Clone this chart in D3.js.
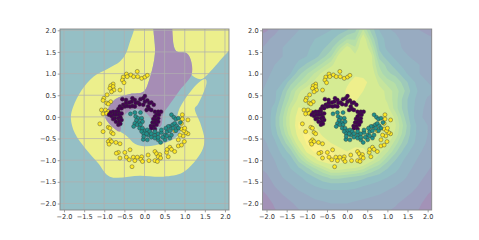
<!DOCTYPE html>
<html>
<head>
<meta charset="utf-8">
<script src="https://cdn.jsdelivr.net/npm/d3@7"></script>
<style>
body { margin: 0; background: #fff; }
text { font-family: "DejaVu Sans", sans-serif; }
</style>
</head>
<body>
<svg id="vis" width="479" height="240"></svg>
<script>
// values
const tickValues = [-2, -1.5, -1, -0.5, 0, 0.5, 1, 1.5, 2];

const purplePoints = [[-0.55,0.41],[-0.46,0.39],[-0.30,0.43],[-0.24,0.39],[-0.16,0.33],[-0.10,0.41],[-0.03,0.43],[0.01,0.35],[0.07,0.38],[0.12,0.32],[0.17,0.33],[0.23,0.28],[0.09,0.24],[-0.03,0.28],[-0.12,0.29],[-0.22,0.32],[-0.32,0.35],[-0.38,0.33],[-0.46,0.32],[-0.53,0.28],[-0.61,0.24],[-0.65,0.18],[-0.57,0.20],[-0.49,0.24],[-0.43,0.25],[-0.36,0.24],[-0.30,0.25],[-0.24,0.24],[-0.65,0.12],[-0.71,0.12],[-0.78,0.12],[-0.84,0.10],[-0.88,0.05],[-0.82,0.02],[-0.76,0.05],[-0.70,0.05],[-0.63,0.05],[-0.57,0.08],[-0.74,-0.03],[-0.65,-0.03],[-0.60,-0.01],[-0.78,-0.05],[-0.71,-0.11],[-0.63,-0.11],[-0.57,-0.07],[-0.65,-0.18],[-0.60,-0.16],[0.05,0.16],[0.12,0.18],[0.17,0.16],[0.26,0.12],[0.34,0.12],[0.41,0.12],[0.30,0.05],[0.36,0.05],[0.26,0.01],[0.34,-0.03],[0.22,-0.05],[0.28,-0.07],[0.20,-0.13],[0.26,-0.13],[0.34,-0.11],[0.16,-0.21],[0.23,-0.21],[0.30,-0.18],[0.17,-0.26],[0.26,-0.28],[0.01,0.48]];

const tealPoints = [[-0.35,0.07],[-0.24,0.10],[-0.10,0.10],[-0.22,0.01],[-0.16,-0.03],[-0.07,-0.03],[-0.20,-0.08],[-0.13,-0.13],[-0.05,-0.11],[-0.24,-0.15],[-0.18,-0.18],[-0.10,-0.18],[-0.27,-0.22],[-0.12,-0.26],[-0.05,-0.26],[0.01,-0.32],[0.07,-0.30],[0.13,-0.34],[-0.07,-0.34],[-0.02,-0.39],[0.09,-0.42],[0.17,-0.39],[0.26,-0.42],[0.34,-0.39],[0.42,-0.36],[-0.03,-0.52],[0.07,-0.53],[0.17,-0.47],[0.26,-0.49],[0.34,-0.53],[0.40,-0.59],[0.51,-0.42],[0.56,-0.34],[0.63,-0.22],[0.70,-0.18],[0.75,-0.15],[0.67,0.05],[0.73,-0.01],[0.78,-0.05],[0.84,-0.03],[0.89,-0.13],[0.80,-0.21],[0.71,-0.26],[0.63,-0.32],[0.56,-0.44],[0.63,-0.49],[0.51,-0.53],[0.45,-0.47],[0.34,-0.47],[0.84,-0.26],[0.78,-0.32],[0.67,-0.42],[0.59,-0.22],[0.53,-0.26],[0.42,-0.30],[0.26,-0.34],[0.05,-0.39],[-0.02,-0.45]];

const yellowPoints = [[-0.45,0.99],[-0.53,0.92],[-0.55,0.85],[-0.51,0.79],[-0.34,0.97],[-0.27,0.93],[-0.18,1.05],[-0.17,0.93],[-0.07,0.89],[0.01,0.92],[0.07,0.96],[-0.43,0.93],[-0.78,0.76],[-0.84,0.72],[-0.78,0.70],[-0.86,0.66],[-0.76,0.62],[-0.82,0.58],[-0.61,0.62],[-0.93,0.51],[-1.01,0.43],[-1.03,0.38],[-0.84,0.35],[-0.94,0.32],[-0.90,0.30],[-1.07,0.16],[-0.97,0.16],[-1.03,0.07],[-0.90,0.12],[-0.94,0.08],[-1.11,-0.16],[-1.03,-0.34],[-0.90,-0.24],[-0.86,-0.26],[-0.82,-0.36],[-0.78,-0.39],[-0.86,-0.53],[-0.90,-0.57],[-0.82,-0.57],[-0.88,-0.63],[-0.71,-0.59],[-0.61,-0.62],[-0.65,-0.82],[-0.70,-0.84],[-0.61,-0.95],[-0.49,-0.82],[-0.45,-0.93],[-0.36,-0.76],[-0.38,-0.99],[-0.28,-0.93],[-0.24,-1.01],[-0.18,-0.93],[-0.07,-0.92],[-0.09,-0.98],[-0.05,-1.03],[-0.31,-1.15],[0.09,-0.88],[0.11,-1.01],[0.26,-0.80],[0.30,-0.85],[0.38,-0.87],[0.34,-0.92],[0.40,-0.95],[0.26,-1.01],[0.32,-1.03],[0.55,-0.82],[0.56,-0.75],[0.63,-0.70],[0.67,-0.75],[0.59,-0.92],[0.75,-0.80],[0.84,-0.67],[0.92,-0.65],[0.99,-0.57],[0.84,-0.53],[0.96,-0.44],[0.88,-0.42],[1.08,-0.39],[1.03,-0.36],[0.92,-0.28],[0.98,-0.32],[0.75,-0.32],[0.94,0.05],[0.94,-0.05],[1.08,-0.07],[0.92,-0.15],[1.00,-0.26]];

// decision regions of the left panel
const yellowRegion = [[-0.2,2.4],[-0.25,2.05],[-0.36,1.74],[-0.46,1.47],[-0.61,1.28],[-0.90,1.12],[-1.27,0.93],[-1.56,0.62],[-1.77,0.24],[-1.83,-0.03],[-1.73,-0.38],[-1.48,-0.72],[-1.15,-1.07],[-0.86,-1.38],[-0.11,-1.36],[0.47,-1.38],[0.96,-1.28],[1.42,-0.80],[1.49,-0.53],[1.40,-0.18],[1.25,0.20],[1.32,0.28],[1.54,0.78],[1.52,0.87],[1.38,0.82],[1.05,0.47],[0.84,0.12],[0.82,-0.07],[0.92,-0.26],[0.76,-0.49],[0.47,-0.61],[0.05,-0.68],[-0.24,-0.62],[-0.43,-0.45],[-0.61,-0.34],[-0.82,-0.21],[-0.98,0.01],[-0.90,0.20],[-0.73,0.41],[-0.36,0.53],[-0.03,0.58],[0.14,0.93],[0.26,1.47],[0.22,2.05],[0.22,2.4]];
const cornerRegion = [[0.66,2.4],[0.69,2.05],[2.6,2.4],[2.6,2.0],[2.08,1.51],[1.46,0.89],[1.38,0.87],[1.17,0.98],[1.16,1.28],[1.05,1.47],[0.78,1.53]];
const purpleRegion = [[0.22,2.4],[0.66,2.4],[0.69,2.05],[0.78,1.53],[1.05,1.47],[1.16,1.28],[1.17,0.98],[0.88,0.62],[0.59,0.24],[0.47,0.08],[0.40,-0.22],[0.26,-0.21],[0.18,-0.07],[0.05,0.08],[-0.19,0.18],[-0.40,0.12],[-0.57,-0.07],[-0.61,-0.34],[-0.82,-0.21],[-0.98,0.01],[-0.90,0.20],[-0.73,0.41],[-0.36,0.53],[-0.03,0.58],[0.14,0.93],[0.26,1.47],[0.22,2.05]];

// right panel field, 0 = purple corner, 9 = yellow
const fieldX = [-2.2,-2,-1.8,-1.6,-1.4,-1.2,-1,-0.8,-0.6,-0.4,-0.2,0,0.2,0.4,0.6,0.8,1,1.2,1.4,1.6,1.8,2,2.2];
const fieldY = [2.2,2,1.8,1.6,1.4,1.2,1,0.8,0.6,0.4,0.2,0,-0.2,-0.4,-0.6,-0.8,-1,-1.2,-1.4,-1.6,-1.8,-2,-2.2];
const fieldRows = [
  [.5,.5,1,1.6,2,2.2,2.4,2.6,2.8,3,3.3,3.6,4,5.5,4,3,2.5,2.3,2,1.8,1.6,1.5,1.5],
  [.5,.7,1.3,1.9,2.2,2.4,2.5,2.7,3,3.2,3.6,4,4.6,6.5,4.5,3.2,2.5,2.3,2,1.8,1.6,1.5,1.5],
  [1,1.4,1.9,2.2,2.4,2.6,3,3.2,3.4,3.8,4.5,5.5,5.5,8,5.5,3.5,3,2.6,2.2,2,1.8,1.7,1.6],
  [1.4,1.8,2.2,2.4,2.5,2.8,3,3.5,3.8,4.5,6,7.6,6.5,8.2,6.5,3.8,3,2.7,2.3,2.2,2,2,2],
  [1.8,2,2.3,2.4,2.6,2.9,3.2,3.6,4.5,5.5,7.6,8,7.5,8.2,7.5,4.5,3.5,3,2.6,2.3,2.1,2,2],
  [2,2.2,2.4,2.6,2.8,3.5,4.2,5,6,7,7.8,8,7.8,8,7.5,5.5,4.5,3.5,3,2.7,2.4,2.2,2.2],
  [2.1,2.3,2.5,2.9,3.2,4.5,5.5,6.5,7.5,8,8,8,8.2,8,8,6,5,4.5,3.5,2.8,2.4,2.2,2.2],
  [2.2,2.4,2.7,3.2,4.5,5.5,6.5,7.5,8,8,8,8.2,8.5,8.6,8,7,6,5.5,4.5,3.5,2.8,2.4,2.3],
  [2.3,2.5,3,4,5.5,7,7.8,8,8,8,8,8.4,8.8,8.3,8,7.5,7,6,5,3.8,3,2.6,2.4],
  [2.4,2.6,3,4.5,6,7.5,8,8,8,8,8,8.3,8.4,8,8,7.8,7,6,4.5,3.5,2.8,2.3,2.2],
  [2.4,2.7,3.5,5,7,8.4,8.2,8,8,8,8,8,8,8,8,7.8,7.5,6,4.5,3.5,2.6,2.2,2.2],
  [2.4,2.6,3.8,5.5,7.5,8.8,8.5,8.2,8,8,8,8,8,8,8,8,8,7,5,3.5,2.5,2.2,2.2],
  [2.4,2.6,3.8,5.5,7.5,9,8.8,8.3,8,8,8,8,8,8,8,8.2,8.3,7.3,5.5,3.8,2.8,2.4,2.2],
  [2.3,2.6,3.5,5,7,8.8,9,8.6,8.2,8,8,8,8,8,8,8.2,8,7,5.2,3.7,2.8,2.4,2.2],
  [2.2,2.4,3,4.2,5.8,8,9,9,8.6,8.3,8,8,8,8,8,8,7.5,6,4.5,3.5,2.7,2.3,2.1],
  [2,2.2,2.7,3.5,4.5,6.5,8.5,9,9,9,8.6,8.3,8.6,8.5,8,7.5,6.5,5,3.8,3,2.5,2.1,1.9],
  [1.8,2,2.4,3,3.5,5,6.5,8,8.8,9,8.8,8.6,8.8,8.5,7.5,6.5,5,4,3.2,2.7,2.2,1.9,1.6],
  [1.5,1.8,2.2,2.7,3.2,3.8,4.5,5.5,6.5,7.5,7.5,7.2,7,6.5,5.5,4.8,4,3.5,2.8,2.4,2,1.7,1.3],
  [1.1,1.4,2,2.4,2.7,3,3.5,4,4.5,5,5,4.8,4.5,4.2,3.8,3.5,3.2,2.8,2.5,2.2,1.8,1.4,1],
  [.8,1.1,1.6,2,2.3,2.6,2.9,3.2,3.4,3.5,3.5,3.5,3.4,3.2,3,2.8,2.6,2.4,2.2,1.9,1.5,1.1,.8],
  [.6,.8,1.2,1.6,1.9,2.2,2.4,2.6,2.7,2.8,2.8,2.8,2.7,2.6,2.5,2.4,2.2,2,1.8,1.5,1.2,.8,.6],
  [.4,.5,.9,1.2,1.5,1.8,2,2.2,2.3,2.4,2.4,2.4,2.3,2.2,2.1,2,1.9,1.7,1.4,1.2,.9,.5,.4],
  [.3,.4,.7,1,1.3,1.5,1.7,1.9,2,2.1,2.1,2.1,2,1.9,1.8,1.7,1.6,1.4,1.2,1,.7,.4,.3]
];
const fieldLevels = [0, 0.8, 1.6, 2.4, 3.2, 4, 4.8, 5.6, 6.4, 7.2, 8.3, 8.9];

const svg = d3.select("#vis");
const margin = {top: 29, bottom: 210};

const y = d3.scaleLinear().domain([2.03, -2.15]).range([margin.top, margin.bottom]);
const xLeft = d3.scaleLinear().domain([-2.1, 2.1]).range([60, 229]);
const xRight = d3.scaleLinear().domain([-2.1, 2.1]).range([262.5, 431.7]);

const fieldColor = d3.scaleLinear()
  .domain([0, 1.5, 3.5, 5.5, 7.8, 9])
  .range(["#a68bb4", "#9aa5c0", "#90bcc4", "#aedcae", "#d9ec90", "#f5f08a"]);

function addFrame(name, x) {
  const g = svg.append("g").attr("class", name);
  g.append("clipPath").attr("id", "clip-" + name)
    .append("rect")
    .attr("x", x.range()[0]).attr("y", margin.top)
    .attr("width", x.range()[1] - x.range()[0]).attr("height", margin.bottom - margin.top);
  return g;
}

function drawAxes(g, x) {
  const fmt = d => d3.format(".1f")(d).replace("-", "\u2212");
  const xaxis = g.append("g")
    .attr("transform", `translate(0,${margin.bottom})`)
    .call(d3.axisBottom(x).tickValues(tickValues).tickFormat(fmt).tickSize(2.3).tickPadding(1.6));
  const yaxis = g.append("g")
    .attr("transform", `translate(${x.range()[0]},0)`)
    .call(d3.axisLeft(y).tickValues(tickValues).tickFormat(fmt).tickSize(2.3).tickPadding(1.6));
  [xaxis, yaxis].forEach(a => {
    a.selectAll("text").attr("font-size", 6.6).attr("font-family", "DejaVu Sans").attr("fill", "#333");
    a.selectAll("line").attr("stroke", "#555").attr("stroke-width", 0.55);
    a.select(".domain").remove();
  });
  g.append("rect")
    .attr("x", x.range()[0]).attr("y", margin.top)
    .attr("width", x.range()[1] - x.range()[0]).attr("height", margin.bottom - margin.top)
    .attr("fill", "none").attr("stroke", "#888").attr("stroke-width", 0.9);
}

function drawPoints(g, x) {
  const sets = [[yellowPoints, "#fde725"], [purplePoints, "#440154"], [tealPoints, "#21918c"]];
  sets.forEach(([pts, color]) => {
    g.append("g").selectAll("circle").data(pts).join("circle")
      .attr("cx", d => x(d[0]))
      .attr("cy", d => y(d[1]))
      .attr("r", 2)
      .attr("fill", color)
      .attr("stroke", "#333")
      .attr("stroke-width", 0.4);
  });
}

// left panel
const left = addFrame("left", xLeft);
const leftBody = left.append("g").attr("clip-path", "url(#clip-left)");
leftBody.append("rect")
  .attr("x", xLeft.range()[0]).attr("y", margin.top)
  .attr("width", 169).attr("height", margin.bottom - margin.top)
  .attr("fill", "#95bfc5");

const region = d3.line().x(d => xLeft(d[0])).y(d => y(d[1])).curve(d3.curveCatmullRomClosed.alpha(0.5));
leftBody.append("path").attr("d", region(yellowRegion)).attr("fill", "#ecef8c");
leftBody.append("path").attr("d", region(cornerRegion)).attr("fill", "#ecef8c");
leftBody.append("path").attr("d", region(purpleRegion)).attr("fill", "#a68db5");

tickValues.forEach(t => {
  leftBody.append("line").attr("x1", xLeft(t)).attr("x2", xLeft(t))
    .attr("y1", margin.top).attr("y2", margin.bottom)
    .attr("stroke", "#b0b0b0").attr("stroke-width", 0.9).attr("opacity", 0.8);
  leftBody.append("line").attr("x1", xLeft.range()[0]).attr("x2", xLeft.range()[1])
    .attr("y1", y(t)).attr("y2", y(t))
    .attr("stroke", "#b0b0b0").attr("stroke-width", 0.9).attr("opacity", 0.8);
});
drawPoints(leftBody, xLeft);
drawAxes(left, xLeft);

// right panel
const right = addFrame("right", xRight);
const rightBody = right.append("g").attr("clip-path", "url(#clip-right)");
rightBody.append("rect")
  .attr("x", xRight.range()[0]).attr("y", margin.top)
  .attr("width", 169.2).attr("height", margin.bottom - margin.top)
  .attr("fill", fieldColor(0));

const gridX = d3.scaleLinear().domain([0.5, fieldX.length - 0.5]).range([fieldX[0], fieldX[fieldX.length - 1]]);
const gridY = d3.scaleLinear().domain([0.5, fieldY.length - 0.5]).range([fieldY[0], fieldY[fieldY.length - 1]]);
const contours = d3.contours()
  .size([fieldX.length, fieldY.length])
  .thresholds(fieldLevels)(fieldRows.flat());
const contourPath = d3.geoPath(d3.geoTransform({
  point(px, py) { this.stream.point(xRight(gridX(px)), y(gridY(py))); }
}));
rightBody.selectAll("path").data(contours).join("path")
  .attr("d", contourPath)
  .attr("fill", d => fieldColor(d.value + 0.4));
drawPoints(rightBody, xRight);
drawAxes(right, xRight);
</script>
</body>
</html>
